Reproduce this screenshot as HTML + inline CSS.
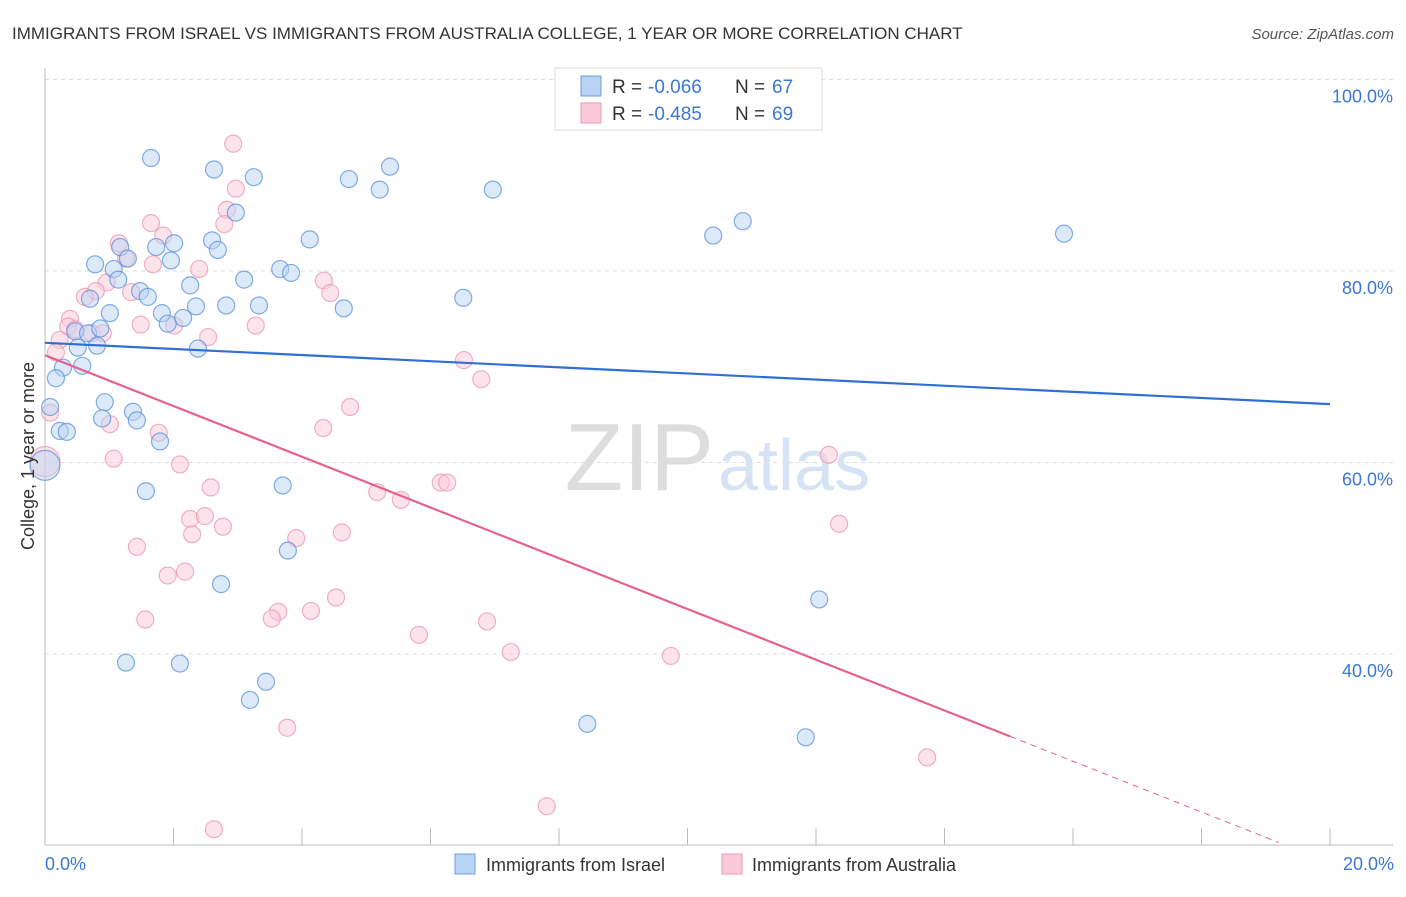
<!DOCTYPE html>
<html><head><meta charset="utf-8"><style>
body{margin:0;background:#fff;font-family:"Liberation Sans",sans-serif;}
svg text{font-family:"Liberation Sans",sans-serif;}
</style></head><body>
<svg id="c" width="1406" height="892" xmlns="http://www.w3.org/2000/svg">
<text x="12" y="39" font-size="17" fill="#333">IMMIGRANTS FROM ISRAEL VS IMMIGRANTS FROM AUSTRALIA COLLEGE, 1 YEAR OR MORE CORRELATION CHART</text>
<text x="1394" y="39" font-size="15" fill="#555" font-style="italic" text-anchor="end">Source: ZipAtlas.com</text>
<g id="grid"></g>
<text x="714" y="490" font-size="96" font-family="Liberation Serif" fill="#ddd" text-anchor="end">ZIP</text>
<text x="718" y="490" font-size="72" fill="#d6e3f5">atlas</text>
<g id="pts"></g>
<g id="lines"></g>
<text transform="translate(34,456) rotate(-90)" font-size="18" fill="#333" text-anchor="middle">College, 1 year or more</text>
<text x="45" y="870" font-size="18" fill="#3a78d4">0.0%</text>
<text x="1394" y="870" font-size="18" fill="#3a78d4" text-anchor="end">20.0%</text>
<g>
<rect x="555" y="68" width="267" height="62" fill="#fff" stroke="#ddd"/>
<rect x="581" y="76" width="20" height="20" fill="#b9d3f3" stroke="#6a9be0"/>
<rect x="581" y="103" width="20" height="20" fill="#fbcad8" stroke="#ec97b0"/>
<text x="612" y="93" font-size="19" fill="#333">R =</text>
<text x="648" y="93" font-size="19" fill="#3a78d4">-0.066</text>
<text x="735" y="93" font-size="19" fill="#333">N =</text>
<text x="772" y="93" font-size="19" fill="#3a78d4">67</text>
<text x="612" y="120" font-size="19" fill="#333">R =</text>
<text x="648" y="120" font-size="19" fill="#3a78d4">-0.485</text>
<text x="735" y="120" font-size="19" fill="#333">N =</text>
<text x="772" y="120" font-size="19" fill="#3a78d4">69</text>
</g>
<g>
<rect x="455" y="854" width="20" height="20" fill="#b9d3f3" stroke="#6a9be0"/>
<text x="486" y="871" font-size="18" fill="#333">Immigrants from Israel</text>
<rect x="722" y="854" width="20" height="20" fill="#fbcad8" stroke="#ec97b0"/>
<text x="752" y="871" font-size="18" fill="#333">Immigrants from Australia</text>
</g>
</svg>
<script>
const yTicks=[40,60,80,100];
const yTickLabels=["40.0%","60.0%","80.0%","100.0%"];
const xTicks=[0,2,4,6,8,10,12,14,16,18,20];
const israelX=[1.65,2.63,3.25,4.73,5.37,5.21,6.97,2.97,10.86,10.40,15.86,4.12,2.60,2.01,1.73,2.69,1.17,1.29,1.96,0.78,1.07,3.66,3.83,3.10,1.14,2.26,1.48,1.60,0.70,6.51,2.35,2.82,3.33,4.65,1.01,1.82,2.15,1.91,0.47,0.67,0.86,2.38,0.51,0.81,0.58,0.28,0.17,0.08,0.93,1.37,1.43,0.89,0.23,0.34,1.79,0,1.57,3.70,3.78,2.74,12.05,1.26,2.10,3.44,3.19,8.44,11.84];
const israelY=[91.8,90.6,89.8,89.6,90.9,88.5,88.5,86.1,85.2,83.7,83.9,83.3,83.2,82.9,82.5,82.2,82.5,81.3,81.1,80.7,80.2,80.2,79.8,79.1,79.1,78.5,77.9,77.3,77.1,77.2,76.3,76.4,76.4,76.1,75.6,75.6,75.1,74.5,73.7,73.5,74.0,71.9,72.0,72.2,70.1,69.9,68.8,65.8,66.3,65.3,64.4,64.6,63.3,63.2,62.2,59.7,57.0,57.6,50.8,47.3,45.7,39.1,39.0,37.1,35.2,32.7,31.3];
const ausX=[2.93,2.97,2.83,2.79,1.65,1.84,1.15,1.26,1.68,2.40,4.34,4.44,0.96,0.79,0.62,1.34,1.49,2.01,3.28,0.39,0.36,0.47,0.73,0.90,2.54,0.23,0.17,6.52,6.79,0.08,1.01,4.75,4.33,1.77,12.20,0,1.07,2.10,2.58,6.16,6.26,5.17,5.54,2.26,2.49,2.77,2.29,4.62,3.91,12.36,1.43,1.91,2.18,4.53,4.14,3.63,3.53,1.56,6.88,5.82,7.25,9.74,3.77,13.73,7.81,2.63];
const ausY=[93.3,88.6,86.4,84.9,85.0,83.7,82.9,81.3,80.7,80.2,79.0,77.7,78.8,77.9,77.3,77.8,74.4,74.3,74.3,75.0,74.2,73.9,73.5,73.5,73.1,72.8,71.5,70.7,68.7,65.2,64.0,65.8,63.6,63.1,60.8,60.1,60.4,59.8,57.4,57.9,57.9,56.9,56.1,54.1,54.4,53.3,52.5,52.7,52.1,53.6,51.2,48.2,48.6,45.9,44.5,44.4,43.7,43.6,43.4,42.0,40.2,39.8,32.3,29.2,24.1,21.7];
const israelTrend=[72.5,66.1];   // y at x=0 and x=20
const ausTrend=[71.2,-2.65];     // intercept, slope
const ausSolidEnd=15.02, ausDashEnd=19.2;

const NS="http://www.w3.org/2000/svg";
const sx=v=>45+v*64.25, sy=v=>1037-v*9.575;
function mk(tag,attrs,parent){const e=document.createElementNS(NS,tag);for(const k in attrs)e.setAttribute(k,attrs[k]);parent.appendChild(e);return e;}
const grid=document.getElementById('grid');
yTicks.forEach((t,i)=>{
  const l=mk('line',{x1:45,x2:1393,y1:sy(t),y2:sy(t),stroke:'#ddd','stroke-dasharray':'4,4'},grid);
  
  
  const tx=mk('text',{x:1393,y:sy(t)+23,'font-size':18,fill:'#3a78d4','text-anchor':'end'},grid);
  tx.textContent=yTickLabels[i];
  
  
});
const ax=mk('line',{x1:45,x2:1393,y1:845,y2:845,stroke:'#bbb'},grid);


const ay=mk('line',{x1:45,x2:45,y1:68,y2:845,stroke:'#bbb'},grid);


xTicks.forEach(t=>{
  const l=mk('line',{x1:sx(t),x2:sx(t),y1:828,y2:845,stroke:'#bbb'},grid);
  
  
});
const pts=document.getElementById('pts');
function dots(X,Y,fill,stroke,name){
  X.forEach((x,i)=>{
    const big=x===0;
    const c=mk('circle',{cx:sx(x),cy:sy(Y[i]),r:big?15:8.5,fill:fill,'fill-opacity':0.5,stroke:stroke,'stroke-width':1.2,'stroke-opacity':0.75},pts);
    
    
  });
}
dots(ausX,ausY,'#fbcad8','#ec97b0','australia-point');
dots(israelX,israelY,'#b9d3f3','#5b90dc','israel-point');
const lines=document.getElementById('lines');
const bl=mk('line',{x1:sx(0),y1:sy(israelTrend[0]),x2:sx(20),y2:sy(israelTrend[1]),stroke:'#2f6fd6','stroke-width':2.2},lines);


const pl=mk('line',{x1:sx(0),y1:sy(ausTrend[0]),x2:sx(ausSolidEnd),y2:sy(ausTrend[0]+ausTrend[1]*ausSolidEnd),stroke:'#e4628f','stroke-width':2.2},lines);


const pd=mk('line',{x1:sx(ausSolidEnd),y1:sy(ausTrend[0]+ausTrend[1]*ausSolidEnd),x2:sx(ausDashEnd),y2:sy(ausTrend[0]+ausTrend[1]*ausDashEnd),stroke:'#e4628f','stroke-width':1,'stroke-dasharray':'6,5'},lines);


</script>
</body></html>
